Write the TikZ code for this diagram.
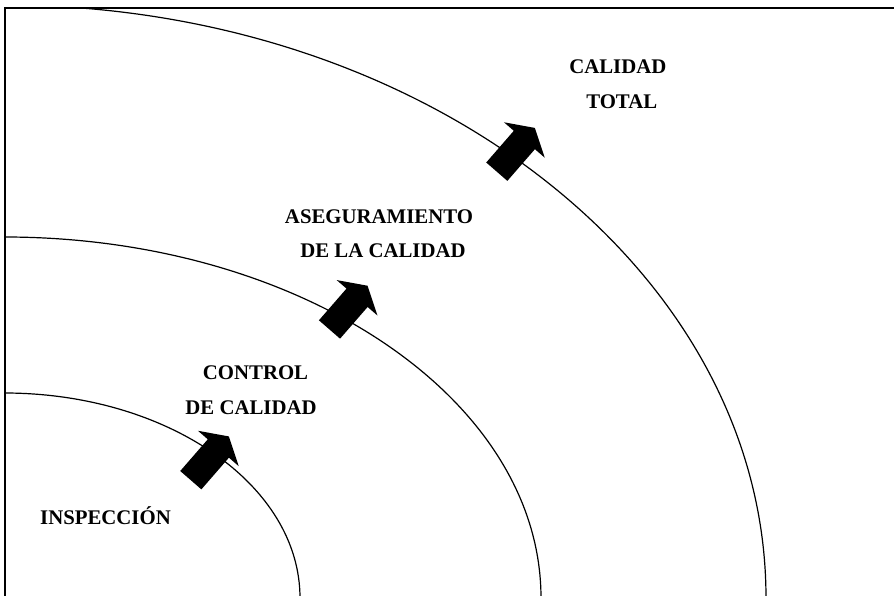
\documentclass[tikz,border=0pt]{standalone}
\usepackage{fontspec}
\setmainfont{Liberation Serif}
\begin{document}
\begin{tikzpicture}[x=0.75pt,y=0.75pt,
  lbl/.style={font=\fontsize{15.6}{18}\selectfont\bfseries, inner sep=0pt, text height=10.3pt, text depth=0pt},
  ring/.style={line width=0.9pt},
  frameline/.style={line width=1.5pt},
  fatarrow/.pic={\fill[black] (0,-14) -- (42,-14) -- (42,-27) -- (58,0) -- (42,27) -- (42,14) -- (0,14) -- cycle;}]
\useasboundingbox (0,0) rectangle (894,596);
% quarter ellipses centred at the lower-left corner
\coordinate (O) at (4,-2);
\begin{scope}
  \clip (4,0) rectangle (894,588);
  \draw[ring] (4,591) arc[start angle=90,end angle=0,x radius=762,y radius=593];
  \draw[ring] (4,359) arc[start angle=90,end angle=0,x radius=537,y radius=361];
  \draw[ring] (4,203) arc[start angle=90,end angle=0,x radius=296,y radius=205];
\end{scope}
% frame
\coordinate (bl) at (4.5,0);
\coordinate (tl) at (4.5,588);
\coordinate (tr) at (894,588);
\draw[frameline] (bl) -- (tl) -- (tr);
% block arrows
\pic[rotate=49] at (190.8,115.8) {fatarrow};
\pic[rotate=49] at (329.5,266.5) {fatarrow};
\pic[rotate=49] at (496.8,424.3) {fatarrow};
% labels
\node[lbl] (ct1) at (617.8,529.3) {CALIDAD};
\node[lbl] (ct2) at (621.7,494.3) {TOTAL};
\node[lbl] (ac1) at (379,379.7) {ASEGURAMIENTO};
\node[lbl] (ac2) at (383,345) {DE LA CALIDAD};
\node[lbl] (cc1) at (255.5,223) {CONTROL};
\node[lbl] (cc2) at (251,188.3) {DE CALIDAD};
\node[lbl] (ins) at (105.5,78.5) {INSPECCIÓN};
\end{tikzpicture}
\end{document}
